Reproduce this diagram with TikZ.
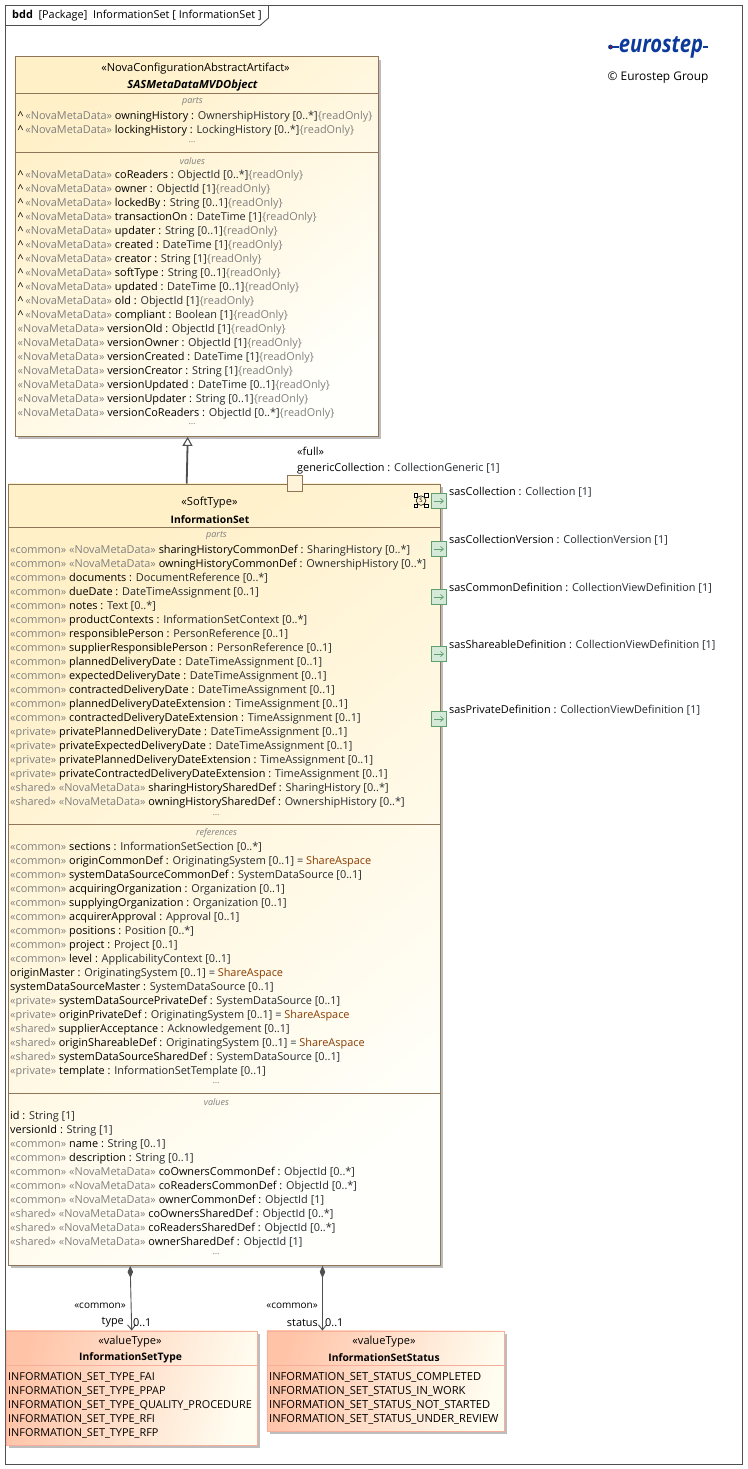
\documentclass[tikz,border=0pt]{standalone}
\usepackage{fontspec}
\setmainfont{Open Sans}
\usetikzlibrary{arrows.meta, shadows}
\definecolor{FrameDark}  {HTML}{4F4F4F}
\definecolor{ClassEdge}  {HTML}{8F7658}
\definecolor{ClassTop}   {HTML}{FFF0C8}
\definecolor{ClassLow}   {HTML}{FFFFFB}
\definecolor{EnumEdge}   {HTML}{F8AE9C}
\definecolor{EnumTop}    {HTML}{FFC4A8}
\definecolor{EnumLow}    {HTML}{FFFDF0}
\definecolor{ShadowGrey} {HTML}{BDBDBD}
\definecolor{StereoGrey} {HTML}{808080}
\definecolor{TypeDark}   {HTML}{262A30}
\definecolor{ValueBrown} {HTML}{8A3C00}
\definecolor{PortEdge}   {HTML}{5E9F6E}
\definecolor{PortFill}   {HTML}{D5E9D8}
\definecolor{LogoBlue}   {HTML}{0B3A9A}
\newcommand{\rowfont}{\fontsize{10.9}{14}\selectfont}
\newcommand{\stereo}[1]{\textcolor{StereoGrey}{«#1»} }
\newcommand{\meta}{\stereo{NovaMetaData}}
\newcommand{\inh}{\textasciicircum\,\meta}
\newcommand{\ro}{\textcolor{StereoGrey}{\{readOnly\}}}
\newcommand{\attr}[2]{#1 : \textcolor{TypeDark}{#2}}
\newcommand{\shared}{\textcolor{ValueBrown}{ShareAspace}}
\tikzset{
  classbox/.style={draw=ClassEdge, line width=.9pt, rectangle, anchor=north west, inner sep=0pt,
    left color=ClassTop, right color=ClassLow, shading angle=40,
    drop shadow={shadow xshift=3pt, shadow yshift=-3pt, opacity=1, fill=ShadowGrey}},
  enumbox/.style={draw=EnumEdge, line width=.9pt, rectangle, anchor=north west, inner sep=0pt,
    left color=EnumTop, right color=EnumLow, shading angle=75,
    drop shadow={shadow xshift=3pt, shadow yshift=-3pt, opacity=1, fill=ShadowGrey}},
  rows/.style={anchor=north west, inner sep=0pt, yshift=-2pt, align=left, font=\rowfont,
    execute at begin node={\rule{0pt}{12pt}}},
  title/.style={inner sep=0pt, yshift=-2pt, font=\fontsize{11.1}{14}\selectfont},
  boldtitle/.style={inner sep=0pt, yshift=-2pt, font=\fontsize{10.3}{14}\selectfont\bfseries},
  compname/.style={inner sep=0pt, font=\fontsize{9}{10}\selectfont\itshape, text=StereoGrey},
  portbox/.style={draw=PortEdge, line width=.9pt, fill=PortFill, rectangle, inner sep=0pt,
    minimum width=15.5pt, minimum height=15pt},
  portlabel/.style={anchor=west, inner sep=0pt, yshift=-1pt, font=\rowfont},
  assoclabel/.style={inner sep=0pt, yshift=-1.5pt, font=\rowfont},
  iconcorner/.style={draw=black, line width=.6pt, fill=white, rectangle, inner sep=0pt, minimum size=3.4pt},
  compose/.style={draw=FrameDark, line width=.9pt,
    {Diamond[length=12pt, width=5.5pt]}-{Straight Barb[length=5pt, width=8pt]}},
  divider/.style={draw=ClassEdge, line width=.9pt}
}
\begin{document}
\begin{tikzpicture}[x=1pt, y=-1pt]
\useasboundingbox (0,0) rectangle (747,1469);
\fill[white] (0,0) rectangle (747,1469);

% frame and tab
\draw[FrameDark, line width=1pt] (5.5,5.5) rectangle (742.5,1464);
\draw[FrameDark, line width=.9pt] (5.5,25.5) -- (260,25.5) -- (268.5,18) -- (268.5,5.5);
\node[anchor=west, inner sep=0pt, font=\rowfont] (frameTitle) at (12,16)
  {\textbf{bdd} \ [Package] \ InformationSet [ InformationSet ]};

% logo
\node[inner sep=0pt, text=LogoBlue, font=\fontsize{24}{24}\selectfont\bfseries\itshape,
      xscale=.84, transform shape] (logoText) at (661,47) {eurostep};
\draw[LogoBlue, line width=1.6pt] (612,47) -- (logoText.west |- 0,47);
\draw[LogoBlue, line width=1.6pt] (logoText.east |- 0,47) -- (708,47);
\fill[LogoBlue] (610.5,47) circle (2.4pt);
\fill[red!80!black] (610.5,47) circle (1.1pt);
\node[anchor=west, inner sep=0pt, yshift=-1.5pt, font=\fontsize{11.9}{14}\selectfont] (logoCaption) at (607.5,76)
  {© Eurostep Group};

% super class
\node[classbox, minimum width=363.5pt, minimum height=379.5pt] (metaBox) at (14.5,56.5) {};
\draw[divider] (metaBox.west |- 0,93.5) -- (metaBox.east |- 0,93.5);
\draw[divider] (metaBox.west |- 0,152.5) -- (metaBox.east |- 0,152.5);
\node[title] (metaStereo) at (195.5,67) {«NovaConfigurationAbstractArtifact»};
\node[title, font=\fontsize{11.2}{14}\selectfont\bfseries\itshape] (metaName) at (192.5,84) {SASMetaDataMVDObject};
\node[compname] (metaParts) at (192.5,102) {parts};
\node[rows] (metaPartRows) at (17.5,109) {%
  \inh \attr{owningHistory}{OwnershipHistory [0..*]}\ro\\
  \inh \attr{lockingHistory}{LockingHistory [0..*]}\ro};
\node[compname] (metaPartDots) at (192.5,142) {...};
\node[compname] (metaValues) at (192.5,161) {values};
\node[rows] (metaValueRows) at (17.5,168) {%
  \inh \attr{coReaders}{ObjectId [0..*]}\ro\\
  \inh \attr{owner}{ObjectId [1]}\ro\\
  \inh \attr{lockedBy}{String [0..1]}\ro\\
  \inh \attr{transactionOn}{DateTime [1]}\ro\\
  \inh \attr{updater}{String [0..1]}\ro\\
  \inh \attr{created}{DateTime [1]}\ro\\
  \inh \attr{creator}{String [1]}\ro\\
  \inh \attr{softType}{String [0..1]}\ro\\
  \inh \attr{updated}{DateTime [0..1]}\ro\\
  \inh \attr{old}{ObjectId [1]}\ro\\
  \inh \attr{compliant}{Boolean [1]}\ro\\
  \meta\attr{versionOld}{ObjectId [1]}\ro\\
  \meta\attr{versionOwner}{ObjectId [1]}\ro\\
  \meta\attr{versionCreated}{DateTime [1]}\ro\\
  \meta\attr{versionCreator}{String [1]}\ro\\
  \meta\attr{versionUpdated}{DateTime [0..1]}\ro\\
  \meta\attr{versionUpdater}{String [0..1]}\ro\\
  \meta\attr{versionCoReaders}{ObjectId [0..*]}\ro};
\node[compname] (metaValueDots) at (192.5,424) {...};

% main block
\node[classbox, minimum width=432.5pt, minimum height=781.5pt] (infoSet) at (7.5,483.5) {};
\draw[divider] (infoSet.west |- 0,527.5) -- (infoSet.east |- 0,527.5);
\draw[divider] (infoSet.west |- 0,824.5) -- (infoSet.east |- 0,824.5);
\draw[divider] (infoSet.west |- 0,1093.5) -- (infoSet.east |- 0,1093.5);
\node[title] (infoStereo) at (209.5,501) {«SoftType»};
\node[boldtitle] (infoName) at (210,518) {InformationSet};
\node[compname] (infoParts) at (216.5,536) {parts};
\node[rows] (infoPartRows) at (10,543) {%
  \stereo{common}\meta\attr{sharingHistoryCommonDef}{SharingHistory [0..*]}\\
  \stereo{common}\meta\attr{owningHistoryCommonDef}{OwnershipHistory [0..*]}\\
  \stereo{common}\attr{documents}{DocumentReference [0..*]}\\
  \stereo{common}\attr{dueDate}{DateTimeAssignment [0..1]}\\
  \stereo{common}\attr{notes}{Text [0..*]}\\
  \stereo{common}\attr{productContexts}{InformationSetContext [0..*]}\\
  \stereo{common}\attr{responsiblePerson}{PersonReference [0..1]}\\
  \stereo{common}\attr{supplierResponsiblePerson}{PersonReference [0..1]}\\
  \stereo{common}\attr{plannedDeliveryDate}{DateTimeAssignment [0..1]}\\
  \stereo{common}\attr{expectedDeliveryDate}{DateTimeAssignment [0..1]}\\
  \stereo{common}\attr{contractedDeliveryDate}{DateTimeAssignment [0..1]}\\
  \stereo{common}\attr{plannedDeliveryDateExtension}{TimeAssignment [0..1]}\\
  \stereo{common}\attr{contractedDeliveryDateExtension}{TimeAssignment [0..1]}\\
  \stereo{private}\attr{privatePlannedDeliveryDate}{DateTimeAssignment [0..1]}\\
  \stereo{private}\attr{privateExpectedDeliveryDate}{DateTimeAssignment [0..1]}\\
  \stereo{private}\attr{privatePlannedDeliveryDateExtension}{TimeAssignment [0..1]}\\
  \stereo{private}\attr{privateContractedDeliveryDateExtension}{TimeAssignment [0..1]}\\
  \stereo{shared}\meta\attr{sharingHistorySharedDef}{SharingHistory [0..*]}\\
  \stereo{shared}\meta\attr{owningHistorySharedDef}{OwnershipHistory [0..*]}};
\node[compname] (infoPartDots) at (216.5,815) {...};
\node[compname] (infoRefs) at (216.5,833) {references};
\node[rows] (infoRefRows) at (10,840) {%
  \stereo{common}\attr{sections}{InformationSetSection [0..*]}\\
  \stereo{common}\attr{originCommonDef}{OriginatingSystem [0..1] = \shared}\\
  \stereo{common}\attr{systemDataSourceCommonDef}{SystemDataSource [0..1]}\\
  \stereo{common}\attr{acquiringOrganization}{Organization [0..1]}\\
  \stereo{common}\attr{supplyingOrganization}{Organization [0..1]}\\
  \stereo{common}\attr{acquirerApproval}{Approval [0..1]}\\
  \stereo{common}\attr{positions}{Position [0..*]}\\
  \stereo{common}\attr{project}{Project [0..1]}\\
  \stereo{common}\attr{level}{ApplicabilityContext [0..1]}\\
  \attr{originMaster}{OriginatingSystem [0..1] = \shared}\\
  \attr{systemDataSourceMaster}{SystemDataSource [0..1]}\\
  \stereo{private}\attr{systemDataSourcePrivateDef}{SystemDataSource [0..1]}\\
  \stereo{private}\attr{originPrivateDef}{OriginatingSystem [0..1] = \shared}\\
  \stereo{shared}\attr{supplierAcceptance}{Acknowledgement [0..1]}\\
  \stereo{shared}\attr{originShareableDef}{OriginatingSystem [0..1] = \shared}\\
  \stereo{shared}\attr{systemDataSourceSharedDef}{SystemDataSource [0..1]}\\
  \stereo{private}\attr{template}{InformationSetTemplate [0..1]}};
\node[compname] (infoRefDots) at (216.5,1083) {...};
\node[compname] (infoValues) at (216.5,1102) {values};
\node[rows] (infoValueRows) at (10,1109) {%
  \attr{id}{String [1]}\\
  \attr{versionId}{String [1]}\\
  \stereo{common}\attr{name}{String [0..1]}\\
  \stereo{common}\attr{description}{String [0..1]}\\
  \stereo{common}\meta\attr{coOwnersCommonDef}{ObjectId [0..*]}\\
  \stereo{common}\meta\attr{coReadersCommonDef}{ObjectId [0..*]}\\
  \stereo{common}\meta\attr{ownerCommonDef}{ObjectId [1]}\\
  \stereo{shared}\meta\attr{coOwnersSharedDef}{ObjectId [0..*]}\\
  \stereo{shared}\meta\attr{coReadersSharedDef}{ObjectId [0..*]}\\
  \stereo{shared}\meta\attr{ownerSharedDef}{ObjectId [1]}};
\node[compname] (infoValueDots) at (216.5,1254) {...};

% generalization
\draw[FrameDark, line width=1.8pt, -{Triangle[open, length=9pt, width=10pt, line width=1.1pt]}]
  ([xshift=-37.5pt]infoSet.north) -- ([xshift=-9pt]metaBox.south);

% full port
\node[draw=ClassEdge, line width=.9pt, fill=ClassTop!70, rectangle, minimum width=15.5pt, minimum height=15.5pt,
      inner sep=0pt] (fullPort) at (295,483.5) {};
\node[assoclabel, anchor=west] (fullStereo) at (297,450) {«full»};
\node[assoclabel, anchor=west] (fullLabel) at (297,467) {\attr{genericCollection}{CollectionGeneric [1]}};

% structure icon
\node[draw, circle, line width=.6pt, minimum size=9.5pt, inner sep=0pt, font=\fontsize{6}{6}\selectfont] (iconCore) at (421,500.6) {S};
\foreach \ix/\iy in {-5.3/-5.3, 5.3/-5.3, -5.3/5.3, 5.3/5.3}
  \node[iconcorner] (iconBit\ix\iy) at ([xshift=\ix pt, yshift=\iy pt]iconCore.center) {};

% ports
\foreach \pname/\yy/\lbl in {
  portColl/501/\attr{sasCollection}{Collection [1]},
  portVers/549/\attr{sasCollectionVersion}{CollectionVersion [1]},
  portComm/597/\attr{sasCommonDefinition}{CollectionViewDefinition [1]},
  portShar/654/\attr{sasShareableDefinition}{CollectionViewDefinition [1]},
  portPriv/719/\attr{sasPrivateDefinition}{CollectionViewDefinition [1]}} {
  \node[portbox] (\pname) at (439,\yy) {};
  \draw[PortEdge, line width=.7pt, -{Straight Barb[length=3pt, width=5pt]}]
    ([xshift=-5pt]\pname.center) -- ([xshift=5pt]\pname.center);
  \node[portlabel] (\pname Label) at (449,\yy-10) {\lbl};
}

% value types
\node[enumbox, minimum width=251.5pt, minimum height=114pt] (typeEnum) at (5.5,1330.5) {};
\draw[draw=EnumEdge, line width=.9pt] (typeEnum.west |- 0,1365.5) -- (typeEnum.east |- 0,1365.5);
\node[title] (typeStereo) at (130,1340) {«valueType»};
\node[boldtitle] (typeName) at (130.5,1356) {InformationSetType};
\node[rows] (typeRows) at (8,1370) {%
  INFORMATION\_SET\_TYPE\_FAI\\
  INFORMATION\_SET\_TYPE\_PPAP\\
  INFORMATION\_SET\_TYPE\_QUALITY\_PROCEDURE\\
  INFORMATION\_SET\_TYPE\_RFI\\
  INFORMATION\_SET\_TYPE\_RFP};

\node[enumbox, minimum width=237pt, minimum height=100pt] (statusEnum) at (266.5,1330.5) {};
\draw[draw=EnumEdge, line width=.9pt] (statusEnum.west |- 0,1365.5) -- (statusEnum.east |- 0,1365.5);
\node[title] (statusStereo) at (384,1340) {«valueType»};
\node[boldtitle] (statusName) at (384,1356) {InformationSetStatus};
\node[rows, font=\fontsize{11.15}{14}\selectfont] (statusRows) at (269,1370) {%
  INFORMATION\_SET\_STATUS\_COMPLETED\\
  INFORMATION\_SET\_STATUS\_IN\_WORK\\
  INFORMATION\_SET\_STATUS\_NOT\_STARTED\\
  INFORMATION\_SET\_STATUS\_UNDER\_REVIEW};

% compositions
\draw[compose] ([xshift=-94pt]infoSet.south) -- (typeEnum.north);
\draw[compose] ([xshift=98.3pt]infoSet.south) -- ([xshift=-63pt]statusEnum.north);
\node[assoclabel, anchor=east, font=\fontsize{10}{14}\selectfont] (typeCommon) at (126,1304) {«common»};
\node[assoclabel, anchor=east] (typeRole) at (124,1321) {type};
\node[assoclabel, anchor=west] (typeMult) at (133,1321) {0..1};
\node[assoclabel, anchor=east, font=\fontsize{10}{14}\selectfont] (statusCommon) at (318,1304) {«common»};
\node[assoclabel, anchor=east] (statusRole) at (318,1321) {status};
\node[assoclabel, anchor=west] (statusMult) at (325,1321) {0..1};
\end{tikzpicture}
\end{document}
